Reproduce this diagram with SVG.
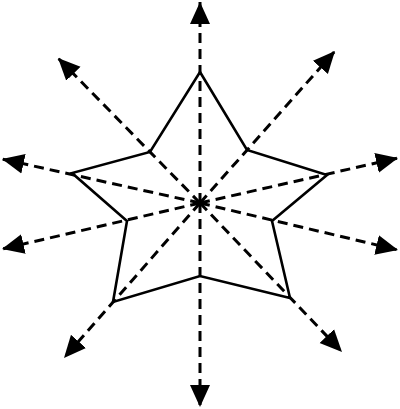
<svg xmlns="http://www.w3.org/2000/svg" width="400" height="409" viewBox="0 0 400 409">
<defs>
<style>
.ray{stroke:#000;stroke-width:3;stroke-dasharray:10,6;fill:none;marker-end:url(#ah)}
.star{stroke:#000;stroke-width:2.6;fill:none;stroke-linejoin:miter}
</style>
<marker id="ah" markerUnits="userSpaceOnUse" markerWidth="24" markerHeight="22" refX="22" refY="10" orient="auto" viewBox="0 0 24 20">
<path d="M0,0 L22,10 L0,20 Z" fill="#000"/>
</marker>
</defs>
<rect width="400" height="409" fill="#fff"/>
<g id="star">
<polygon class="star" points="200,72 247,150 327,175 272,221 290,298 200,276 113,302 127,221 72,173 150,152"/>
</g>
<g id="connectors">
<line class="ray" x1="200" y1="203" x2="200" y2="2"/>
<line class="ray" x1="200" y1="203" x2="200" y2="407"/>
<line class="ray" x1="200" y1="203" x2="58" y2="58"/>
<line class="ray" x1="200" y1="203" x2="335" y2="51"/>
<line class="ray" x1="200" y1="203" x2="2" y2="159"/>
<line class="ray" x1="200" y1="203" x2="398" y2="158"/>
<line class="ray" x1="200" y1="203" x2="2" y2="249"/>
<line class="ray" x1="200" y1="203" x2="398" y2="250"/>
<line class="ray" x1="200" y1="203" x2="64" y2="358"/>
<line class="ray" x1="200" y1="203" x2="342" y2="352"/>
</g>
</svg>
